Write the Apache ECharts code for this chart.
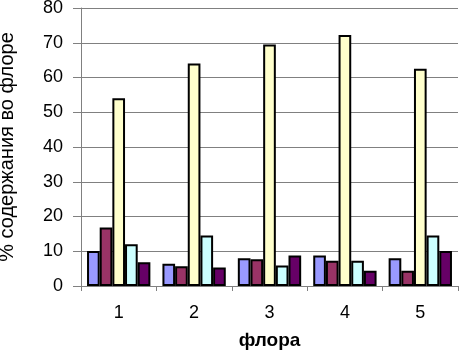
<!DOCTYPE html>
<html>
<head>
<meta charset="utf-8">
<script src="https://cdn.jsdelivr.net/npm/echarts@6/dist/echarts.min.js"></script>
<style>
  html, body { margin: 0; padding: 0; background: #fff; }
  #chart { width: 460px; height: 354px; }
</style>
</head>
<body>
<div id="chart"></div>
<script>
  // категории и значения по сериям
  const categories = ['1', '2', '3', '4', '5'];
  const series1 = [10.1, 6.4, 8.0, 8.8, 8.0];
  const series2 = [16.8, 5.7, 7.7, 7.3, 4.4];
  const series3 = [54.0, 64.0, 69.5, 72.2, 62.5];
  const series4 = [12.0, 14.5, 5.9, 7.3, 14.5];
  const series5 = [6.8, 5.3, 8.8, 4.4, 10.1];
  const colors = ['#9999FF', '#993366', '#FFFFCC', '#CCFFFF', '#660066'];
  const allSeries = [series1, series2, series3, series4, series5];

  const chartDom = document.getElementById('chart');
  const myChart = echarts.init(chartDom);
  const font = 'Liberation Sans, Arial, sans-serif';

  myChart.setOption({
    animation: false,
    grid: { left: 81, right: 2, top: 8, bottom: 68, containLabel: false, outerBoundsMode: 'none' },
    xAxis: {
      type: 'category',
      data: categories,
      name: 'флора',
      nameLocation: 'middle',
      nameGap: 45,
      nameTextStyle: { fontFamily: font, fontSize: 19, fontWeight: 'bold', color: '#000' },
      axisLine: { lineStyle: { color: '#808080' } },
      axisTick: { show: true, length: 5, lineStyle: { color: '#808080' } },
      axisLabel: { fontFamily: font, fontSize: 18, color: '#000', margin: 18 }
    },
    yAxis: {
      type: 'value',
      min: 0,
      max: 80,
      interval: 10,
      name: '% содержания во флоре',
      nameLocation: 'middle',
      nameGap: 64,
      nameRotate: 90,
      nameTextStyle: { fontFamily: font, fontSize: 20, color: '#000' },
      axisLine: { show: true, lineStyle: { color: '#808080' } },
      axisTick: { show: true, length: 8, lineStyle: { color: '#808080' } },
      axisLabel: { fontFamily: font, fontSize: 18, color: '#000', margin: 18 },
      splitLine: { lineStyle: { color: '#808080' } }
    },
    series: allSeries.map((vals, i) => ({
      type: 'bar',
      data: vals,
      barGap: '0%',
      barCategoryGap: '16%',
      itemStyle: { color: colors[i], borderColor: '#000', borderWidth: 2 }
    }))
  });
</script>
</body>
</html>
